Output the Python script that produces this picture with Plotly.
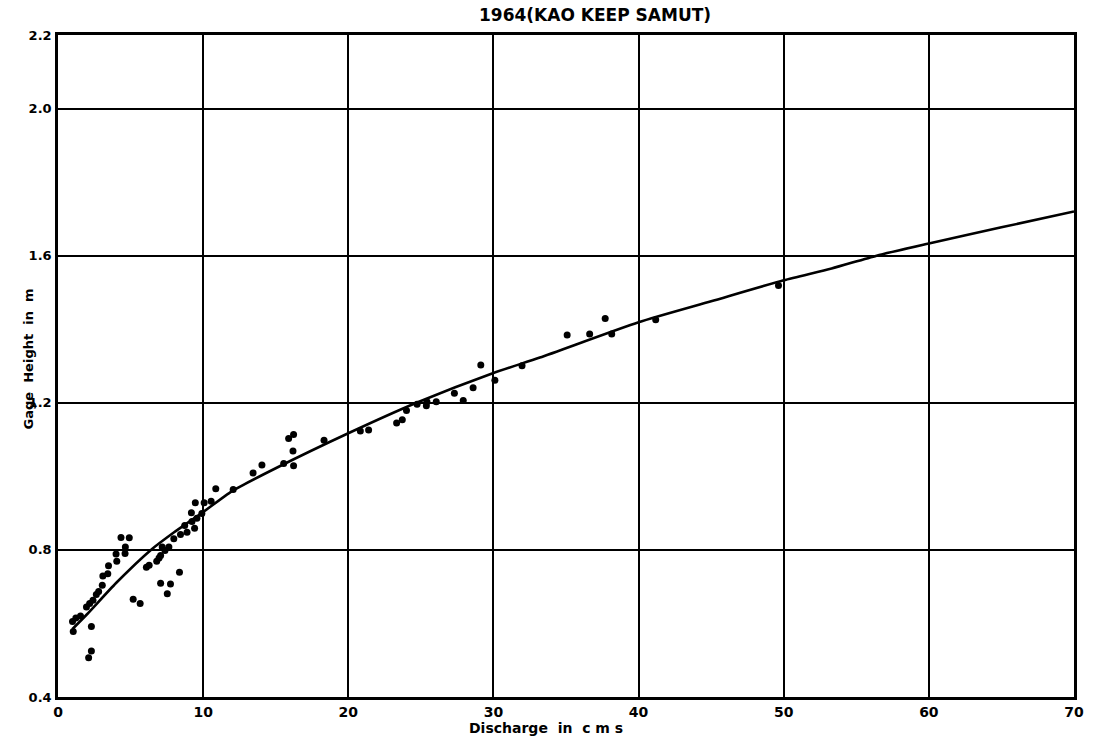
import plotly.graph_objects as go

# Observed discharge (cms) and gage height (m)
obs_q = [1.05, 1.0, 1.23, 1.55, 2.3, 2.3, 2.11,
         1.96, 2.18, 2.41, 2.64, 2.8,
         3.05, 3.09, 3.43, 3.48, 4.05, 4.0, 4.62, 4.64, 4.34, 4.91,
         5.18, 5.66,
         7.07, 7.75, 7.53, 8.37,
         6.09, 6.28, 6.8, 6.96, 7.07, 7.37, 7.64, 7.18,
         7.98, 8.44, 8.89, 9.41, 8.73, 9.23, 9.57, 9.19, 9.91, 9.46, 10.07, 10.55, 10.87, 12.07,
         13.44, 14.05, 15.55, 16.23, 16.19, 15.89, 16.23, 18.33, 20.83, 21.4, 23.33, 23.72,
         24.01, 24.74, 25.38, 25.42, 26.06, 27.31, 27.92, 28.6, 29.13, 30.1, 31.97,
         35.08, 36.63, 37.7, 38.15, 41.18, 49.64]
obs_h = [0.578, 0.605, 0.615, 0.62, 0.592, 0.525, 0.507,
         0.645, 0.654, 0.663, 0.679, 0.687,
         0.704, 0.729, 0.735, 0.757, 0.769, 0.789, 0.790, 0.808, 0.834, 0.833,
         0.666, 0.654,
         0.709, 0.707, 0.681, 0.739,
         0.753, 0.758, 0.769, 0.778, 0.785, 0.798, 0.808, 0.808,
         0.830, 0.842, 0.848, 0.859, 0.866, 0.877, 0.886, 0.901, 0.899, 0.928, 0.928, 0.932, 0.966, 0.964,
         1.009, 1.031, 1.035, 1.029, 1.069, 1.103, 1.114, 1.098, 1.123, 1.126, 1.145, 1.154,
         1.179, 1.196, 1.192, 1.203, 1.203, 1.226, 1.206, 1.241, 1.303, 1.261, 1.301,
         1.384, 1.387, 1.429, 1.387, 1.426, 1.519]

# Fitted rating curve
curve_q = [1.0, 2.0, 4.0, 6.4, 8.0, 10.0, 12.0, 15.0, 20.0, 24.7, 30.0, 33.2,
           40.0, 45.0, 50.0, 53.3, 56.4, 60.0, 65.0, 70.0]
curve_h = [0.585, 0.625, 0.71, 0.80, 0.848, 0.903, 0.96, 1.022, 1.117, 1.20, 1.281, 1.323,
           1.419, 1.476, 1.533, 1.565, 1.60, 1.633, 1.677, 1.72]

x_ticks = [0, 10, 20, 30, 40, 50, 60, 70]
y_ticks = [0.4, 0.8, 1.2, 1.6, 2.0, 2.2]
y_tick_text = ["0.4", "0.8", "1.2", "1.6", "2.0", "2.2"]

title_text = "1964(KAO KEEP SAMUT)"
x_title = "Discharge  in  c m s"
y_title = "Gage  Height  in  m"

FONT = "DejaVu Sans"

fig = go.Figure()
fig.add_trace(go.Scatter(
    x=curve_q, y=curve_h, mode="lines",
    line=dict(color="black", width=2.6, shape="spline", smoothing=0.6),
    hoverinfo="skip", showlegend=False,
))
fig.add_trace(go.Scatter(
    x=obs_q, y=obs_h, mode="markers",
    marker=dict(color="black", size=7),
    showlegend=False,
))

axis_common = dict(
    showgrid=True, gridcolor="black", gridwidth=2,
    showline=True, linecolor="black", linewidth=2.5, mirror=True,
    zeroline=False, ticks="",
)

fig.update_xaxes(range=[0, 70], tickvals=x_ticks, ticklabelstandoff=0,
                 tickfont=dict(family=FONT, size=14, color="black", weight="bold"),
                 **axis_common)
fig.update_yaxes(range=[0.4, 2.2], tickvals=y_ticks, ticktext=y_tick_text,
                 ticklabelstandoff=1,
                 tickfont=dict(family=FONT, size=13, color="black", weight="bold"),
                 **axis_common)

fig.add_annotation(text=title_text, xref="paper", yref="paper", x=0.412, y=1.0,
                   yshift=20, showarrow=False, xanchor="left", yanchor="middle",
                   font=dict(family=FONT, size=17, color="black", weight="bold"))
fig.add_annotation(text=x_title, xref="paper", yref="paper", x=0.48, y=0,
                   yshift=-31, showarrow=False, xanchor="center", yanchor="middle",
                   font=dict(family=FONT, size=14, color="black", weight="bold"))
fig.add_annotation(text=y_title, xref="paper", yref="paper", x=0, y=0.51,
                   xshift=-30, showarrow=False, textangle=-90,
                   xanchor="center", yanchor="middle",
                   font=dict(family=FONT, size=13, color="black", weight="bold"))

fig.update_layout(
    width=1094, height=738,
    margin=dict(l=58, r=10, t=35, b=41),
    paper_bgcolor="white", plot_bgcolor="white",
)

fig.write_html("out.html")
